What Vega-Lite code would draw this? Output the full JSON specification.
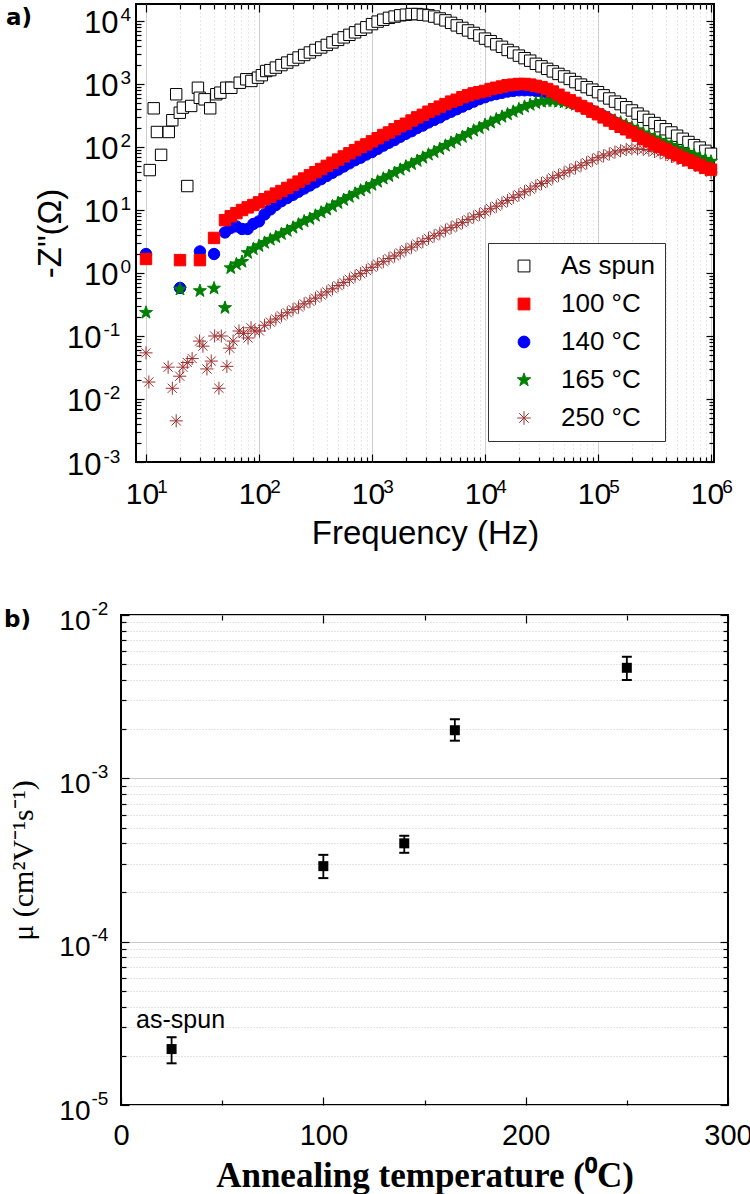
{
  "$schema": "https://vega.github.io/schema/vega-lite/v6.json",
  "background": "white",
  "padding": {"left": 3, "top": 2, "right": 0, "bottom": 0},
  "spacing": 47,
  "config": {
    "view": {"stroke": "black", "strokeWidth": 2},
    "axis": {"domain": false, "labelFont": "Liberation Sans", "titleFont": "Liberation Sans", "labelColor": "black", "titleColor": "black", "tickColor": "black", "tickWidth": 1.2, "labelFlush": false, "labelOverlap": false, "labelBound": false, "titleFontWeight": "normal", "grid": false}
  },
  "datasets": {
    "imp": [
      {"s":"As spun","f":10.8,"z":43},{"s":"As spun","f":11.7,"z":411},{"s":"As spun","f":12.5,"z":173},{"s":"As spun","f":13.6,"z":75},{"s":"As spun","f":15.9,"z":173},{"s":"As spun","f":17.1,"z":266},{"s":"As spun","f":18.5,"z":687},{"s":"As spun","f":19.9,"z":350},{"s":"As spun","f":21.2,"z":421},{"s":"As spun","f":23.2,"z":24},{"s":"As spun","f":25.1,"z":448},{"s":"As spun","f":28.8,"z":871},{"s":"As spun","f":29.9,"z":604},{"s":"As spun","f":33,"z":571},{"s":"As spun","f":37,"z":411},{"s":"As spun","f":41.9,"z":687},{"s":"As spun","f":45.5,"z":728},{"s":"As spun","f":51.4,"z":871},{"s":"As spun","f":56.9,"z":871},{"s":"As spun","f":67.5,"z":1047},{"s":"As spun","f":77.2,"z":1188},{"s":"As spun","f":85.6,"z":1117},{"s":"As spun","f":98,"z":1259},{"s":"As spun","f":106,"z":1380},{"s":"As spun","f":116,"z":1607},
      {"s":"As spun","f":126,"z":1660},{"s":"As spun","f":141,"z":1820},{"s":"As spun","f":158,"z":1995},{"s":"As spun","f":178,"z":2188},{"s":"As spun","f":200,"z":2399},{"s":"As spun","f":224,"z":2630},{"s":"As spun","f":251,"z":2884},{"s":"As spun","f":282,"z":3162},{"s":"As spun","f":316,"z":3467},{"s":"As spun","f":355,"z":3802},{"s":"As spun","f":398,"z":4169},{"s":"As spun","f":447,"z":4571},{"s":"As spun","f":501,"z":5012},{"s":"As spun","f":562,"z":5495},{"s":"As spun","f":631,"z":6026},{"s":"As spun","f":708,"z":6607},{"s":"As spun","f":794,"z":7244},{"s":"As spun","f":891,"z":7943},{"s":"As spun","f":1000,"z":8913},{"s":"As spun","f":1122,"z":9772},{"s":"As spun","f":1259,"z":10470},{"s":"As spun","f":1413,"z":11220},{"s":"As spun","f":1585,"z":11750},{"s":"As spun","f":1778,"z":12300},{"s":"As spun","f":1995,"z":12590},{"s":"As spun","f":2239,"z":12880},{"s":"As spun","f":2512,"z":12880},{"s":"As spun","f":2818,"z":12590},{"s":"As spun","f":3162,"z":12300},{"s":"As spun","f":3548,"z":11750},{"s":"As spun","f":3981,"z":10960},{"s":"As spun","f":4467,"z":10230},{"s":"As spun","f":5012,"z":9333},{"s":"As spun","f":5623,"z":8511},{"s":"As spun","f":6310,"z":7762},{"s":"As spun","f":7079,"z":7079},{"s":"As spun","f":7943,"z":6457},{"s":"As spun","f":8913,"z":5888},{"s":"As spun","f":10000,"z":5248},{"s":"As spun","f":11220,"z":4786},{"s":"As spun","f":12590,"z":4266},{"s":"As spun","f":14130,"z":3890},{"s":"As spun","f":15850,"z":3467},{"s":"As spun","f":17780,"z":3162},{"s":"As spun","f":19950,"z":2818},{"s":"As spun","f":22390,"z":2570},{"s":"As spun","f":25120,"z":2344},{"s":"As spun","f":28180,"z":2089},{"s":"As spun","f":31620,"z":1905},{"s":"As spun","f":35480,"z":1738},{"s":"As spun","f":39810,"z":1585},{"s":"As spun","f":44670,"z":1445},{"s":"As spun","f":50120,"z":1318},{"s":"As spun","f":56230,"z":1202},{"s":"As spun","f":63100,"z":1072},{"s":"As spun","f":70790,"z":977},{"s":"As spun","f":79430,"z":891},{"s":"As spun","f":89130,"z":813},{"s":"As spun","f":100000,"z":741},{"s":"As spun","f":112200,"z":661},{"s":"As spun","f":125900,"z":589},{"s":"As spun","f":141300,"z":525},{"s":"As spun","f":158500,"z":479},{"s":"As spun","f":177800,"z":427},{"s":"As spun","f":199500,"z":380},{"s":"As spun","f":223900,"z":339},{"s":"As spun","f":251200,"z":302},{"s":"As spun","f":281800,"z":269},{"s":"As spun","f":316200,"z":240},{"s":"As spun","f":354800,"z":214},{"s":"As spun","f":398100,"z":191},{"s":"As spun","f":446700,"z":170},{"s":"As spun","f":501200,"z":151},{"s":"As spun","f":562300,"z":135},{"s":"As spun","f":631000,"z":120},{"s":"As spun","f":707900,"z":107},{"s":"As spun","f":794300,"z":98},{"s":"As spun","f":891300,"z":87},{"s":"As spun","f":1000000,"z":78},
      {"s":"250 °C","f":10,"z":0.054},{"s":"250 °C","f":10.6,"z":0.0186},{"s":"250 °C","f":15.7,"z":0.032},{"s":"250 °C","f":17.1,"z":0.0148},{"s":"250 °C","f":18.5,"z":0.0045},{"s":"250 °C","f":19.9,"z":0.023},{"s":"250 °C","f":21.2,"z":0.032},{"s":"250 °C","f":23.2,"z":0.038},{"s":"250 °C","f":25.6,"z":0.044},{"s":"250 °C","f":29.8,"z":0.083},{"s":"250 °C","f":31.9,"z":0.069},{"s":"250 °C","f":34.6,"z":0.03},{"s":"250 °C","f":37.8,"z":0.04},{"s":"250 °C","f":40.5,"z":0.1},{"s":"250 °C","f":44.2,"z":0.0148},{"s":"250 °C","f":46.4,"z":0.1},{"s":"250 °C","f":52,"z":0.033},{"s":"250 °C","f":55,"z":0.064},{"s":"250 °C","f":59,"z":0.083},{"s":"250 °C","f":66.5,"z":0.12},{"s":"250 °C","f":73,"z":0.11},{"s":"250 °C","f":80,"z":0.093},{"s":"250 °C","f":85,"z":0.135},{"s":"250 °C","f":92,"z":0.12},{"s":"250 °C","f":101,"z":0.12},
      {"s":"250 °C","f":112,"z":0.148},{"s":"250 °C","f":126,"z":0.166},{"s":"250 °C","f":141,"z":0.186},{"s":"250 °C","f":158,"z":0.209},{"s":"250 °C","f":178,"z":0.234},{"s":"250 °C","f":200,"z":0.263},{"s":"250 °C","f":224,"z":0.288},{"s":"250 °C","f":251,"z":0.324},{"s":"250 °C","f":282,"z":0.355},{"s":"250 °C","f":316,"z":0.398},{"s":"250 °C","f":355,"z":0.447},{"s":"250 °C","f":398,"z":0.501},{"s":"250 °C","f":447,"z":0.562},{"s":"250 °C","f":501,"z":0.631},{"s":"250 °C","f":562,"z":0.708},{"s":"250 °C","f":631,"z":0.794},{"s":"250 °C","f":708,"z":0.891},{"s":"250 °C","f":794,"z":0.977},{"s":"250 °C","f":891,"z":1.096},{"s":"250 °C","f":1000,"z":1.23},{"s":"250 °C","f":1122,"z":1.38},{"s":"250 °C","f":1259,"z":1.514},{"s":"250 °C","f":1413,"z":1.698},{"s":"250 °C","f":1585,"z":1.862},{"s":"250 °C","f":1778,"z":2.089},{"s":"250 °C","f":1995,"z":2.344},{"s":"250 °C","f":2239,"z":2.57},{"s":"250 °C","f":2512,"z":2.884},{"s":"250 °C","f":2818,"z":3.162},{"s":"250 °C","f":3162,"z":3.548},{"s":"250 °C","f":3548,"z":3.89},{"s":"250 °C","f":3981,"z":4.266},{"s":"250 °C","f":4467,"z":4.786},{"s":"250 °C","f":5012,"z":5.248},{"s":"250 °C","f":5623,"z":5.754},{"s":"250 °C","f":6310,"z":6.31},{"s":"250 °C","f":7079,"z":7.079},{"s":"250 °C","f":7943,"z":7.762},{"s":"250 °C","f":8913,"z":8.511},{"s":"250 °C","f":10000,"z":9.333},{"s":"250 °C","f":11220,"z":10.47},{"s":"250 °C","f":12590,"z":11.48},{"s":"250 °C","f":14130,"z":12.88},{"s":"250 °C","f":15850,"z":14.13},{"s":"250 °C","f":17780,"z":15.85},{"s":"250 °C","f":19950,"z":17.38},{"s":"250 °C","f":22390,"z":19.5},{"s":"250 °C","f":25120,"z":21.38},{"s":"250 °C","f":28180,"z":23.99},{"s":"250 °C","f":31620,"z":26.3},{"s":"250 °C","f":35480,"z":28.84},{"s":"250 °C","f":39810,"z":32.36},{"s":"250 °C","f":44670,"z":35.48},{"s":"250 °C","f":50120,"z":38.9},{"s":"250 °C","f":56230,"z":42.66},{"s":"250 °C","f":63100,"z":46.77},{"s":"250 °C","f":70790,"z":51.29},{"s":"250 °C","f":79430,"z":56.23},{"s":"250 °C","f":89130,"z":61.66},{"s":"250 °C","f":100000,"z":67.61},{"s":"250 °C","f":112200,"z":72.44},{"s":"250 °C","f":125900,"z":77.62},{"s":"250 °C","f":141300,"z":83.18},{"s":"250 °C","f":158500,"z":87.1},{"s":"250 °C","f":177800,"z":91.2},{"s":"250 °C","f":199500,"z":93.33},{"s":"250 °C","f":223900,"z":93.33},{"s":"250 °C","f":251200,"z":91.2},{"s":"250 °C","f":281800,"z":89.13},{"s":"250 °C","f":316200,"z":85.11},{"s":"250 °C","f":354800,"z":81.28},{"s":"250 °C","f":398100,"z":75.86},{"s":"250 °C","f":446700,"z":70.79},{"s":"250 °C","f":501200,"z":66.07},{"s":"250 °C","f":562300,"z":61.66},{"s":"250 °C","f":631000,"z":57.54},{"s":"250 °C","f":707900,"z":52.48},{"s":"250 °C","f":794300,"z":47.86},{"s":"250 °C","f":891300,"z":43.65},{"s":"250 °C","f":1000000,"z":39.81},
      {"s":"140 °C","f":10,"z":2.0},{"s":"140 °C","f":20,"z":0.58},{"s":"140 °C","f":30,"z":2.2},{"s":"140 °C","f":40,"z":2.0},{"s":"140 °C","f":50,"z":4.4},{"s":"140 °C","f":56.2,"z":5.2},{"s":"140 °C","f":63.1,"z":5.5},{"s":"140 °C","f":70.8,"z":5.0},{"s":"140 °C","f":79.4,"z":5.0},{"s":"140 °C","f":89.1,"z":6.0},{"s":"140 °C","f":100,"z":6.6},
      {"s":"140 °C","f":112,"z":8.5},{"s":"140 °C","f":126,"z":10.2},{"s":"140 °C","f":141,"z":12.0},{"s":"140 °C","f":158,"z":13.8},{"s":"140 °C","f":178,"z":15.5},{"s":"140 °C","f":200,"z":17.4},{"s":"140 °C","f":224,"z":19.5},{"s":"140 °C","f":251,"z":21.9},{"s":"140 °C","f":282,"z":24.5},{"s":"140 °C","f":316,"z":27.5},{"s":"140 °C","f":355,"z":30.9},{"s":"140 °C","f":398,"z":34.7},{"s":"140 °C","f":447,"z":38.9},{"s":"140 °C","f":501,"z":43.7},{"s":"140 °C","f":562,"z":49.0},{"s":"140 °C","f":631,"z":55.0},{"s":"140 °C","f":708,"z":61.7},{"s":"140 °C","f":794,"z":67.6},{"s":"140 °C","f":891,"z":75.9},{"s":"140 °C","f":1000,"z":83.2},{"s":"140 °C","f":1122,"z":93.3},{"s":"140 °C","f":1259,"z":105},{"s":"140 °C","f":1413,"z":117},{"s":"140 °C","f":1585,"z":129},{"s":"140 °C","f":1778,"z":145},{"s":"140 °C","f":1995,"z":162},{"s":"140 °C","f":2239,"z":178},{"s":"140 °C","f":2512,"z":200},{"s":"140 °C","f":2818,"z":219},{"s":"140 °C","f":3162,"z":245},{"s":"140 °C","f":3548,"z":269},{"s":"140 °C","f":3981,"z":295},{"s":"140 °C","f":4467,"z":331},{"s":"140 °C","f":5012,"z":363},{"s":"140 °C","f":5623,"z":398},{"s":"140 °C","f":6310,"z":437},{"s":"140 °C","f":7079,"z":479},{"s":"140 °C","f":7943,"z":525},{"s":"140 °C","f":8913,"z":575},{"s":"140 °C","f":10000,"z":617},{"s":"140 °C","f":11220,"z":661},{"s":"140 °C","f":12590,"z":692},{"s":"140 °C","f":14130,"z":724},{"s":"140 °C","f":15850,"z":759},{"s":"140 °C","f":17780,"z":776},{"s":"140 °C","f":19950,"z":794},{"s":"140 °C","f":22390,"z":794},{"s":"140 °C","f":25120,"z":794},{"s":"140 °C","f":28180,"z":776},{"s":"140 °C","f":31620,"z":759},{"s":"140 °C","f":35480,"z":724},{"s":"140 °C","f":39810,"z":676},{"s":"140 °C","f":44670,"z":631},{"s":"140 °C","f":50120,"z":589},{"s":"140 °C","f":56230,"z":537},{"s":"140 °C","f":63100,"z":490},{"s":"140 °C","f":70790,"z":447},{"s":"140 °C","f":79430,"z":407},{"s":"140 °C","f":89130,"z":372},{"s":"140 °C","f":100000,"z":339},{"s":"140 °C","f":112200,"z":309},{"s":"140 °C","f":125900,"z":275},{"s":"140 °C","f":141300,"z":245},{"s":"140 °C","f":158500,"z":219},{"s":"140 °C","f":177800,"z":200},{"s":"140 °C","f":199500,"z":178},{"s":"140 °C","f":223900,"z":158},{"s":"140 °C","f":251200,"z":141},{"s":"140 °C","f":281800,"z":129},{"s":"140 °C","f":316200,"z":115},{"s":"140 °C","f":354800,"z":105},{"s":"140 °C","f":398100,"z":93.3},{"s":"140 °C","f":446700,"z":85.1},{"s":"140 °C","f":501200,"z":77.6},{"s":"140 °C","f":562300,"z":70.8},{"s":"140 °C","f":631000,"z":64.6},{"s":"140 °C","f":707900,"z":58.9},{"s":"140 °C","f":794300,"z":53.7},{"s":"140 °C","f":891300,"z":49.0},{"s":"140 °C","f":1000000,"z":45.7},
      {"s":"165 °C","f":10,"z":0.235},{"s":"165 °C","f":20,"z":0.55},{"s":"165 °C","f":30,"z":0.52},{"s":"165 °C","f":40,"z":0.57},{"s":"165 °C","f":50,"z":0.28},{"s":"165 °C","f":56.2,"z":1.2},{"s":"165 °C","f":63.1,"z":1.38},{"s":"165 °C","f":70.8,"z":1.51},{"s":"165 °C","f":79.4,"z":2.09},{"s":"165 °C","f":89.1,"z":2.4},{"s":"165 °C","f":100,"z":2.69},
      {"s":"165 °C","f":112,"z":3.02},{"s":"165 °C","f":126,"z":3.39},{"s":"165 °C","f":141,"z":3.72},{"s":"165 °C","f":158,"z":4.17},{"s":"165 °C","f":178,"z":4.68},{"s":"165 °C","f":200,"z":5.25},{"s":"165 °C","f":224,"z":5.89},{"s":"165 °C","f":251,"z":6.61},{"s":"165 °C","f":282,"z":7.24},{"s":"165 °C","f":316,"z":8.13},{"s":"165 °C","f":355,"z":9.12},{"s":"165 °C","f":398,"z":10.2},{"s":"165 °C","f":447,"z":11.5},{"s":"165 °C","f":501,"z":12.9},{"s":"165 °C","f":562,"z":14.5},{"s":"165 °C","f":631,"z":16.2},{"s":"165 °C","f":708,"z":18.2},{"s":"165 °C","f":794,"z":20.4},{"s":"165 °C","f":891,"z":22.4},{"s":"165 °C","f":1000,"z":25.1},{"s":"165 °C","f":1122,"z":28.2},{"s":"165 °C","f":1259,"z":31.6},{"s":"165 °C","f":1413,"z":34.7},{"s":"165 °C","f":1585,"z":38.9},{"s":"165 °C","f":1778,"z":43.7},{"s":"165 °C","f":1995,"z":49.0},{"s":"165 °C","f":2239,"z":53.7},{"s":"165 °C","f":2512,"z":60.3},{"s":"165 °C","f":2818,"z":67.6},{"s":"165 °C","f":3162,"z":75.9},{"s":"165 °C","f":3548,"z":83.2},{"s":"165 °C","f":3981,"z":93.3},{"s":"165 °C","f":4467,"z":105},{"s":"165 °C","f":5012,"z":117},{"s":"165 °C","f":5623,"z":129},{"s":"165 °C","f":6310,"z":145},{"s":"165 °C","f":7079,"z":162},{"s":"165 °C","f":7943,"z":182},{"s":"165 °C","f":8913,"z":200},{"s":"165 °C","f":10000,"z":224},{"s":"165 °C","f":11220,"z":245},{"s":"165 °C","f":12590,"z":275},{"s":"165 °C","f":14130,"z":302},{"s":"165 °C","f":15850,"z":331},{"s":"165 °C","f":17780,"z":363},{"s":"165 °C","f":19950,"z":398},{"s":"165 °C","f":22390,"z":437},{"s":"165 °C","f":25120,"z":468},{"s":"165 °C","f":28180,"z":501},{"s":"165 °C","f":31620,"z":525},{"s":"165 °C","f":35480,"z":537},{"s":"165 °C","f":39810,"z":537},{"s":"165 °C","f":44670,"z":525},{"s":"165 °C","f":50120,"z":513},{"s":"165 °C","f":56230,"z":490},{"s":"165 °C","f":63100,"z":468},{"s":"165 °C","f":70790,"z":437},{"s":"165 °C","f":79430,"z":407},{"s":"165 °C","f":89130,"z":380},{"s":"165 °C","f":100000,"z":347},{"s":"165 °C","f":112200,"z":316},{"s":"165 °C","f":125900,"z":288},{"s":"165 °C","f":141300,"z":263},{"s":"165 °C","f":158500,"z":245},{"s":"165 °C","f":177800,"z":224},{"s":"165 °C","f":199500,"z":204},{"s":"165 °C","f":223900,"z":186},{"s":"165 °C","f":251200,"z":166},{"s":"165 °C","f":281800,"z":151},{"s":"165 °C","f":316200,"z":138},{"s":"165 °C","f":354800,"z":126},{"s":"165 °C","f":398100,"z":115},{"s":"165 °C","f":446700,"z":105},{"s":"165 °C","f":501200,"z":95.5},{"s":"165 °C","f":562300,"z":87.1},{"s":"165 °C","f":631000,"z":81.3},{"s":"165 °C","f":707900,"z":74.1},{"s":"165 °C","f":794300,"z":67.6},{"s":"165 °C","f":891300,"z":63.1},{"s":"165 °C","f":1000000,"z":58.9},
      {"s":"100 °C","f":10,"z":1.67},{"s":"100 °C","f":20,"z":1.6},{"s":"100 °C","f":30,"z":1.6},{"s":"100 °C","f":40,"z":3.6},{"s":"100 °C","f":50,"z":6.9},
      {"s":"100 °C","f":56.2,"z":7.94},{"s":"100 °C","f":63.1,"z":8.91},{"s":"100 °C","f":70.8,"z":10.0},{"s":"100 °C","f":79.4,"z":11.0},{"s":"100 °C","f":89.1,"z":12.0},{"s":"100 °C","f":100,"z":13.2},{"s":"100 °C","f":112,"z":14.8},{"s":"100 °C","f":126,"z":16.2},{"s":"100 °C","f":141,"z":18.2},{"s":"100 °C","f":158,"z":20.0},{"s":"100 °C","f":178,"z":22.4},{"s":"100 °C","f":200,"z":25.1},{"s":"100 °C","f":224,"z":28.2},{"s":"100 °C","f":251,"z":31.6},{"s":"100 °C","f":282,"z":35.5},{"s":"100 °C","f":316,"z":39.8},{"s":"100 °C","f":355,"z":44.7},{"s":"100 °C","f":398,"z":50.1},{"s":"100 °C","f":447,"z":56.2},{"s":"100 °C","f":501,"z":63.1},{"s":"100 °C","f":562,"z":70.8},{"s":"100 °C","f":631,"z":79.4},{"s":"100 °C","f":708,"z":89.1},{"s":"100 °C","f":794,"z":100},{"s":"100 °C","f":891,"z":110},{"s":"100 °C","f":1000,"z":123},{"s":"100 °C","f":1122,"z":138},{"s":"100 °C","f":1259,"z":155},{"s":"100 °C","f":1413,"z":170},{"s":"100 °C","f":1585,"z":191},{"s":"100 °C","f":1778,"z":214},{"s":"100 °C","f":1995,"z":234},{"s":"100 °C","f":2239,"z":263},{"s":"100 °C","f":2512,"z":295},{"s":"100 °C","f":2818,"z":324},{"s":"100 °C","f":3162,"z":363},{"s":"100 °C","f":3548,"z":398},{"s":"100 °C","f":3981,"z":437},{"s":"100 °C","f":4467,"z":479},{"s":"100 °C","f":5012,"z":525},{"s":"100 °C","f":5623,"z":562},{"s":"100 °C","f":6310,"z":617},{"s":"100 °C","f":7079,"z":661},{"s":"100 °C","f":7943,"z":708},{"s":"100 °C","f":8913,"z":741},{"s":"100 °C","f":10000,"z":776},{"s":"100 °C","f":11220,"z":832},{"s":"100 °C","f":12590,"z":871},{"s":"100 °C","f":14130,"z":912},{"s":"100 °C","f":15850,"z":955},{"s":"100 °C","f":17780,"z":977},{"s":"100 °C","f":19950,"z":1000},{"s":"100 °C","f":22390,"z":1000},{"s":"100 °C","f":25120,"z":977},{"s":"100 °C","f":28180,"z":933},{"s":"100 °C","f":31620,"z":891},{"s":"100 °C","f":35480,"z":832},{"s":"100 °C","f":39810,"z":759},{"s":"100 °C","f":44670,"z":676},{"s":"100 °C","f":50120,"z":603},{"s":"100 °C","f":56230,"z":550},{"s":"100 °C","f":63100,"z":501},{"s":"100 °C","f":70790,"z":447},{"s":"100 °C","f":79430,"z":407},{"s":"100 °C","f":89130,"z":363},{"s":"100 °C","f":100000,"z":331},{"s":"100 °C","f":112200,"z":295},{"s":"100 °C","f":125900,"z":263},{"s":"100 °C","f":141300,"z":234},{"s":"100 °C","f":158500,"z":209},{"s":"100 °C","f":177800,"z":191},{"s":"100 °C","f":199500,"z":170},{"s":"100 °C","f":223900,"z":151},{"s":"100 °C","f":251200,"z":135},{"s":"100 °C","f":281800,"z":123},{"s":"100 °C","f":316200,"z":110},{"s":"100 °C","f":354800,"z":100},{"s":"100 °C","f":398100,"z":91.2},{"s":"100 °C","f":446700,"z":81.3},{"s":"100 °C","f":501200,"z":74.1},{"s":"100 °C","f":562300,"z":67.6},{"s":"100 °C","f":631000,"z":61.7},{"s":"100 °C","f":707900,"z":56.2},{"s":"100 °C","f":794300,"z":51.3},{"s":"100 °C","f":891300,"z":46.8},{"s":"100 °C","f":1000000,"z":43.7}
    ],
    "mob": [
      {"t":25,"mu":2.2e-5,"lo":1.8e-5,"hi":2.6e-5,"label":"as-spun"},
      {"t":100,"mu":2.9e-4,"lo":2.45e-4,"hi":3.4e-4,"label":""},
      {"t":140,"mu":4.0e-4,"lo":3.5e-4,"hi":4.45e-4,"label":""},
      {"t":165,"mu":1.97e-3,"lo":1.7e-3,"hi":2.3e-3,"label":""},
      {"t":250,"mu":4.75e-3,"lo":4.0e-3,"hi":5.55e-3,"label":""}
    ]
  },
  "vconcat": [
    {
      "spacing": -117,
      "hconcat": [
        {
          "width": 1, "height": 10,
          "view": {"stroke": null},
          "data": {"values": []},
          "mark": {"type": "point", "opacity": 0},
          "encoding": {
            "x": {"field": "v", "type": "quantitative", "axis": null},
            "y": {"field": "v", "type": "quantitative", "axis": null}
          }
        },
        {
          "width": 578,
          "height": 458,
          "data": {"name": "imp"},
          "resolve": {"axis": {"x": "independent", "y": "independent"}},
          "layer": [
            {
              "mark": {"type": "point", "size": 130, "strokeWidth": 1, "opacity": 1, "filled": true},
              "encoding": {
                "x": {"field": "f", "type": "quantitative",
                  "scale": {"type": "log", "domain": [8.157, 1063000], "nice": false},
                  "axis": {"orient": "bottom",
                    "values": [10,20,30,40,50,60,70,80,90,100,200,300,400,500,600,700,800,900,1000,2000,3000,4000,5000,6000,7000,8000,9000,10000,20000,30000,40000,50000,60000,70000,80000,90000,100000,200000,300000,400000,500000,600000,700000,800000,900000,1000000],
                    "labelExpr": "abs(log(datum.value)/LN10-round(log(datum.value)/LN10))<1e-6 ? '10' : ''",
                    "labelFontSize": 30, "labelPadding": 25, "labelOffset": -4,
                    "tickSize": {"condition": {"test": "abs(log(datum.value)/LN10-round(log(datum.value)/LN10))<1e-6", "value": -8}, "value": -5},
                    "grid": true, "gridColor": "#cfcfcf", "gridWidth": 1,
                    "gridDash": {"condition": {"test": "abs(log(datum.value)/LN10-round(log(datum.value)/LN10))<1e-6", "value": []}, "value": [1, 3]},
                    "title": "Frequency (Hz)", "titleFontSize": 33, "titlePadding": 5}},
                "y": {"field": "z", "type": "quantitative",
                  "scale": {"type": "log", "domain": [0.001, 18600], "nice": false},
                  "axis": {"orient": "left",
                    "values": [0.001,0.002,0.003,0.004,0.005,0.006,0.007,0.008,0.009,0.01,0.02,0.03,0.04,0.05,0.06,0.07,0.08,0.09,0.1,0.2,0.3,0.4,0.5,0.6,0.7,0.8,0.9,1,2,3,4,5,6,7,8,9,10,20,30,40,50,60,70,80,90,100,200,300,400,500,600,700,800,900,1000,2000,3000,4000,5000,6000,7000,8000,9000,10000],
                    "labelExpr": "abs(log(datum.value)/LN10-round(log(datum.value)/LN10))<1e-6 && datum.value >= 1 ? '10' : ''",
                    "labelFontSize": 31, "labelPadding": 26, "labelOffset": 3,
                    "tickSize": {"condition": {"test": "abs(log(datum.value)/LN10-round(log(datum.value)/LN10))<1e-6", "value": -8}, "value": -5},
                    "title": "-Z\"(Ω)", "titleFontSize": 33, "titlePadding": 16}},
                "shape": {"field": "s", "type": "nominal",
                  "scale": {"domain": ["As spun", "100 °C", "140 °C", "165 °C", "250 °C"], "range": ["square", "square", "circle", "M0,-1.2L0.282,-0.388L1.141,-0.371L0.456,0.148L0.705,0.971L0,0.48L-0.705,0.971L-0.456,0.148L-1.141,-0.371L-0.282,-0.388Z", "M0,-1.15L0,1.15M-1.15,0L1.15,0M-0.81,-0.81L0.81,0.81M-0.81,0.81L0.81,-0.81"]},
                  "legend": {"title": null, "orient": "none", "legendX": 367, "legendY": 239, "labelFont": "Liberation Sans", "labelFontSize": 26, "labelColor": "black", "padding": 10, "symbolOffset": 13, "labelOffset": 24, "rowPadding": 12, "strokeColor": "#333333", "fillColor": "white", "symbolSize": 140, "symbolStrokeWidth": 1}},
                "fill": {"field": "s", "type": "nominal",
                  "scale": {"domain": ["As spun", "100 °C", "140 °C", "165 °C", "250 °C"], "range": ["white", "#ff0000", "#0000ff", "#008000", "transparent"]},
                  "legend": {"title": null, "orient": "none", "legendX": 367, "legendY": 239, "labelFont": "Liberation Sans", "labelFontSize": 26, "labelColor": "black", "padding": 10, "symbolOffset": 13, "labelOffset": 24, "rowPadding": 12, "strokeColor": "#333333", "fillColor": "white", "symbolSize": 140, "symbolStrokeWidth": 1}},
                "stroke": {"field": "s", "type": "nominal",
                  "scale": {"domain": ["As spun", "100 °C", "140 °C", "165 °C", "250 °C"], "range": ["black", "#ff0000", "#0000ff", "#008000", "#a03232"]},
                  "legend": {"title": null, "orient": "none", "legendX": 367, "legendY": 239, "labelFont": "Liberation Sans", "labelFontSize": 26, "labelColor": "black", "padding": 10, "symbolOffset": 13, "labelOffset": 24, "rowPadding": 12, "strokeColor": "#333333", "fillColor": "white", "symbolSize": 140, "symbolStrokeWidth": 1}}
              }
            },
            {
              "mark": {"type": "point", "opacity": 0},
              "encoding": {
                "x": {"field": "f", "type": "quantitative",
                  "axis": {"orient": "bottom", "values": [10,100,1000,10000,100000,1000000],
                    "labelExpr": "'' + round(log(datum.value)/LN10)",
                    "labelFontSize": 19, "labelPadding": 15, "labelOffset": 16, "ticks": false, "grid": false, "title": null}},
                "y": {"field": "z", "type": "quantitative",
                  "axis": {"orient": "left", "values": [1,10,100,1000,10000],
                    "labelExpr": "'' + round(log(datum.value)/LN10)",
                    "labelFontSize": 19, "labelAlign": "left", "labelPadding": 16, "labelOffset": -6, "ticks": false, "grid": false, "title": null}}
              }
            },
            {
              "mark": {"type": "point", "opacity": 0},
              "encoding": {
                "x": {"field": "f", "type": "quantitative", "axis": null},
                "y": {"field": "z", "type": "quantitative",
                  "axis": {"orient": "left", "values": [0.1,0.01,0.001],
                    "labelExpr": "'-' + abs(round(log(datum.value)/LN10))",
                    "labelFontSize": 19, "labelAlign": "left", "labelPadding": 33, "labelOffset": -6, "ticks": false, "grid": false, "title": null}}
              }
            },
            {
              "mark": {"type": "point", "opacity": 0},
              "encoding": {
                "x": {"field": "f", "type": "quantitative", "axis": null},
                "y": {"field": "z", "type": "quantitative",
                  "axis": {"orient": "left", "values": [0.1,0.01,0.001],
                    "labelExpr": "'10'",
                    "labelFontSize": 31, "labelPadding": 35, "labelOffset": 3, "ticks": false, "grid": false, "title": null}}
              }
            },
            {
              "mark": {"type": "point", "opacity": 0},
              "encoding": {
                "x": {"field": "f", "type": "quantitative",
                  "axis": {"orient": "top",
                    "values": [10,20,30,40,50,60,70,80,90,100,200,300,400,500,600,700,800,900,1000,2000,3000,4000,5000,6000,7000,8000,9000,10000,20000,30000,40000,50000,60000,70000,80000,90000,100000,200000,300000,400000,500000,600000,700000,800000,900000,1000000],
                    "labels": false, "grid": false, "title": null,
                    "tickSize": {"condition": {"test": "abs(log(datum.value)/LN10-round(log(datum.value)/LN10))<1e-6", "value": -8}, "value": -5}}},
                "y": {"field": "z", "type": "quantitative",
                  "axis": {"orient": "right",
                    "values": [0.001,0.002,0.003,0.004,0.005,0.006,0.007,0.008,0.009,0.01,0.02,0.03,0.04,0.05,0.06,0.07,0.08,0.09,0.1,0.2,0.3,0.4,0.5,0.6,0.7,0.8,0.9,1,2,3,4,5,6,7,8,9,10,20,30,40,50,60,70,80,90,100,200,300,400,500,600,700,800,900,1000,2000,3000,4000,5000,6000,7000,8000,9000,10000],
                    "labels": false, "grid": false, "title": null,
                    "tickSize": {"condition": {"test": "abs(log(datum.value)/LN10-round(log(datum.value)/LN10))<1e-6", "value": -8}, "value": -5}}}
              }
            },
            {
              "data": {"values": [{"lab": "a)"}]},
              "mark": {"type": "text", "align": "left", "baseline": "alphabetic", "font": "DejaVu Sans", "fontWeight": "bold", "fontSize": 23, "color": "black"},
              "encoding": {
                "x": {"datum": 0.577, "type": "quantitative", "axis": null},
                "y": {"datum": 8650, "type": "quantitative", "axis": null},
                "text": {"field": "lab"}
              }
            }
          ]
        }
      ]
    },
    {
      "width": 607,
      "height": 490,
      "data": {"name": "mob"},
      "resolve": {"axis": {"x": "independent", "y": "independent"}},
      "layer": [
        {
          "mark": {"type": "rule", "color": "black", "strokeWidth": 1.8},
          "encoding": {
            "x": {"field": "t", "type": "quantitative",
              "scale": {"domain": [0, 300], "nice": false, "zero": false},
              "axis": {"orient": "bottom", "values": [0,50,100,150,200,250,300],
                "labelExpr": "datum.value % 100 == 0 ? datum.label : ''",
                "labelFontSize": 29, "labelPadding": 24,
                "tickSize": {"condition": {"test": "datum.value % 100 == 0", "value": -8}, "value": -5},
                "title": "Annealing temperature (⁰C)", "titleFont": "Liberation Serif", "titleFontWeight": "bold", "titleFontSize": 35, "titlePadding": 5}},
            "y": {"field": "lo", "type": "quantitative",
              "scale": {"type": "log", "domain": [0.00001, 0.01], "nice": false},
              "axis": {"orient": "left",
                "values": [0.00001,0.00002,0.00003,0.00004,0.00005,0.00006,0.00007,0.00008,0.00009,0.0001,0.0002,0.0003,0.0004,0.0005,0.0006,0.0007,0.0008,0.0009,0.001,0.002,0.003,0.004,0.005,0.006,0.007,0.008,0.009,0.01],
                "labelExpr": "abs(log(datum.value)/LN10-round(log(datum.value)/LN10))<1e-6 ? '10' : ''",
                "labelFontSize": 28, "labelPadding": 39, "labelOffset": 6,
                "tickSize": {"condition": {"test": "abs(log(datum.value)/LN10-round(log(datum.value)/LN10))<1e-6", "value": -8}, "value": -5},
                "grid": true, "gridColor": "#c8c8c8", "gridWidth": 1,
                "gridDash": {"condition": {"test": "abs(log(datum.value)/LN10-round(log(datum.value)/LN10))<1e-6", "value": []}, "value": [1, 2]},
                "title": "μ (cm²V⁻¹s⁻¹)", "titleFont": "Liberation Serif", "titleFontSize": 30, "titlePadding": 20}},
            "y2": {"field": "hi"}
          }
        },
        {
          "mark": {"type": "tick", "orient": "horizontal", "size": 10, "thickness": 2, "color": "black", "opacity": 1},
          "encoding": {
            "x": {"field": "t", "type": "quantitative", "axis": null},
            "y": {"field": "lo", "type": "quantitative", "axis": null}
          }
        },
        {
          "mark": {"type": "tick", "orient": "horizontal", "size": 10, "thickness": 2, "color": "black", "opacity": 1},
          "encoding": {
            "x": {"field": "t", "type": "quantitative", "axis": null},
            "y": {"field": "hi", "type": "quantitative", "axis": null}
          }
        },
        {
          "mark": {"type": "point", "shape": "square", "size": 100, "filled": true, "color": "black", "opacity": 1},
          "encoding": {
            "x": {"field": "t", "type": "quantitative", "axis": null},
            "y": {"field": "mu", "type": "quantitative", "axis": null}
          }
        },
        {
          "mark": {"type": "text", "dx": 9, "dy": -29, "font": "Liberation Sans", "fontSize": 25, "color": "black"},
          "encoding": {
            "x": {"field": "t", "type": "quantitative", "axis": null},
            "y": {"field": "mu", "type": "quantitative", "axis": null},
            "text": {"field": "label"}
          }
        },
        {
          "mark": {"type": "point", "opacity": 0},
          "encoding": {
            "x": {"field": "t", "type": "quantitative", "axis": null},
            "y": {"field": "mu", "type": "quantitative",
              "axis": {"orient": "left", "values": [0.00001,0.0001,0.001,0.01],
                "labelExpr": "'-' + abs(round(log(datum.value)/LN10))",
                "labelFontSize": 19, "labelAlign": "left", "labelPadding": 30, "labelOffset": -7, "ticks": false, "grid": false, "title": null}}
          }
        },
        {
          "mark": {"type": "point", "opacity": 0},
          "encoding": {
            "x": {"field": "t", "type": "quantitative",
              "axis": {"orient": "top", "values": [0,50,100,150,200,250,300], "labels": false, "grid": false, "title": null,
                "tickSize": {"condition": {"test": "datum.value % 100 == 0", "value": -8}, "value": -5}}},
            "y": {"field": "mu", "type": "quantitative",
              "axis": {"orient": "right",
                "values": [0.00001,0.00002,0.00003,0.00004,0.00005,0.00006,0.00007,0.00008,0.00009,0.0001,0.0002,0.0003,0.0004,0.0005,0.0006,0.0007,0.0008,0.0009,0.001,0.002,0.003,0.004,0.005,0.006,0.007,0.008,0.009,0.01],
                "labels": false, "grid": false, "title": null,
                "tickSize": {"condition": {"test": "abs(log(datum.value)/LN10-round(log(datum.value)/LN10))<1e-6", "value": -8}, "value": -5}}}
          }
        },
        {
          "data": {"values": [{"lab": "b)"}]},
          "mark": {"type": "text", "align": "left", "baseline": "alphabetic", "font": "DejaVu Sans", "fontWeight": "bold", "fontSize": 23, "color": "black"},
          "encoding": {
            "x": {"datum": -57.8, "type": "quantitative", "axis": null},
            "y": {"datum": 0.00845, "type": "quantitative", "axis": null},
            "text": {"field": "lab"}
          }
        }
      ]
    }
  ]
}
